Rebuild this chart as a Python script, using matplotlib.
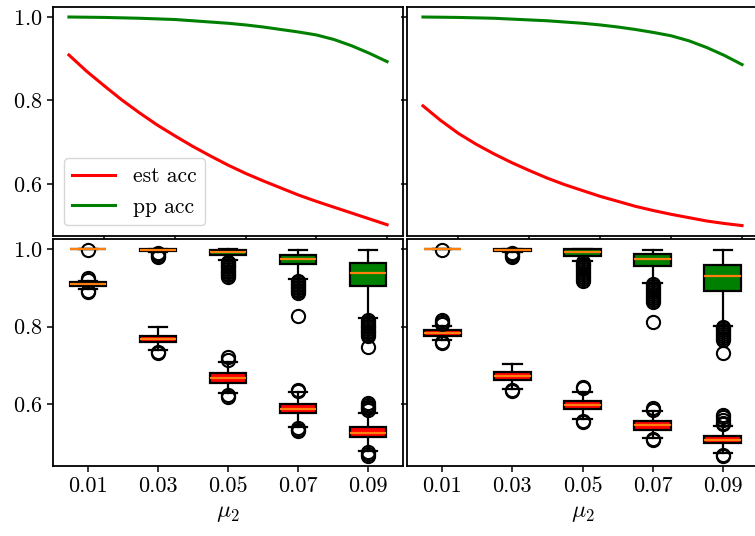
import matplotlib
matplotlib.use("Agg")
import matplotlib.pyplot as plt

plt.rcParams["font.family"] = "serif"
plt.rcParams["font.serif"] = ["cmr10"]
plt.rcParams["mathtext.fontset"] = "cm"
plt.rcParams["axes.unicode_minus"] = False
plt.rcParams["axes.formatter.use_mathtext"] = True

# top row: mean accuracy curves
mu = [0.010, 0.015, 0.020, 0.025, 0.030, 0.035, 0.040, 0.045, 0.050, 0.055,
      0.060, 0.065, 0.070, 0.075, 0.080, 0.085, 0.090, 0.095, 0.100]
est_left = [0.909, 0.870, 0.835, 0.801, 0.770, 0.741, 0.715, 0.690, 0.667, 0.645,
            0.625, 0.607, 0.590, 0.573, 0.558, 0.544, 0.530, 0.516, 0.502]
pp_left = [1.000, 0.9995, 0.999, 0.998, 0.997, 0.9955, 0.994, 0.991, 0.988, 0.985,
           0.981, 0.976, 0.970, 0.964, 0.957, 0.946, 0.931, 0.913, 0.893]
est_right = [0.787, 0.752, 0.721, 0.695, 0.672, 0.651, 0.632, 0.614, 0.598, 0.584,
             0.570, 0.558, 0.546, 0.536, 0.527, 0.519, 0.511, 0.505, 0.500]
pp_right = [1.000, 0.9995, 0.999, 0.998, 0.997, 0.995, 0.993, 0.991, 0.988, 0.985,
            0.981, 0.976, 0.970, 0.963, 0.955, 0.943, 0.927, 0.908, 0.886]

# bottom row: box statistics
pos = [0.01, 0.03, 0.05, 0.07, 0.09]
pos_labels = ["0.01", "0.03", "0.05", "0.07", "0.09"]

L_est_med = [0.909, 0.768, 0.668, 0.589, 0.527]
L_est_q1 = [0.904, 0.760, 0.656, 0.578, 0.515]
L_est_q3 = [0.914, 0.777, 0.680, 0.602, 0.541]
L_est_lo = [0.897, 0.740, 0.628, 0.542, 0.479]
L_est_hi = [0.918, 0.798, 0.708, 0.632, 0.578]
L_est_fl = [[0.926, 0.920, 0.893, 0.890],
            [0.735, 0.732],
            [0.721, 0.715, 0.624, 0.619],
            [0.638, 0.634, 0.540, 0.535, 0.530],
            [0.604, 0.599, 0.594, 0.590, 0.585, 0.476, 0.471, 0.467]]

L_pp_med = [1.0, 0.997, 0.992, 0.975, 0.939]
L_pp_q1 = [1.0, 0.995, 0.986, 0.961, 0.904]
L_pp_q3 = [1.0, 0.999, 0.998, 0.986, 0.964]
L_pp_lo = [1.0, 0.992, 0.971, 0.924, 0.823]
L_pp_hi = [1.0, 1.0, 1.0, 0.998, 0.998]
L_pp_fl = [[0.997],
           [0.991, 0.987, 0.983, 0.980],
           [0.968, 0.964, 0.960, 0.957, 0.953, 0.949, 0.944, 0.940, 0.936, 0.932, 0.928],
           [0.919, 0.915, 0.911, 0.907, 0.903, 0.899, 0.895, 0.891, 0.888, 0.827],
           [0.817, 0.812, 0.808, 0.803, 0.799, 0.794, 0.790, 0.786, 0.781, 0.775, 0.747]]

R_est_med = [0.784, 0.672, 0.598, 0.546, 0.509]
R_est_q1 = [0.777, 0.662, 0.588, 0.535, 0.500]
R_est_q3 = [0.791, 0.682, 0.609, 0.556, 0.518]
R_est_lo = [0.767, 0.639, 0.562, 0.514, 0.474]
R_est_hi = [0.802, 0.704, 0.632, 0.582, 0.545]
R_est_fl = [[0.817, 0.811, 0.806, 0.760, 0.757],
            [0.636, 0.633],
            [0.645, 0.641, 0.558, 0.555],
            [0.591, 0.586, 0.510, 0.507],
            [0.572, 0.566, 0.560, 0.553, 0.548, 0.470, 0.466]]

R_pp_med = [1.0, 0.998, 0.992, 0.974, 0.931]
R_pp_q1 = [1.0, 0.996, 0.982, 0.956, 0.892]
R_pp_q3 = [1.0, 0.999, 0.999, 0.988, 0.960]
R_pp_lo = [1.0, 0.993, 0.969, 0.913, 0.802]
R_pp_hi = [1.0, 1.0, 1.0, 0.998, 0.997]
R_pp_fl = [[0.997],
           [0.991, 0.987, 0.983, 0.979],
           [0.966, 0.962, 0.958, 0.953, 0.949, 0.944, 0.939, 0.934, 0.929, 0.924, 0.919],
           [0.910, 0.905, 0.900, 0.895, 0.890, 0.884, 0.879, 0.874, 0.869, 0.864, 0.813],
           [0.800, 0.796, 0.791, 0.787, 0.782, 0.777, 0.772, 0.767, 0.732]]


def stats(med, q1, q3, lo, hi, fl):
    return [dict(med=m, q1=a, q3=b, whislo=l, whishi=h, fliers=f)
            for m, a, b, l, h, f in zip(med, q1, q3, lo, hi, fl)]


def draw_boxes(ax, st, color):
    ax.bxp(st, positions=pos, widths=0.0105, patch_artist=True, manage_ticks=False,
           boxprops=dict(facecolor=color, edgecolor="black", linewidth=1.6),
           medianprops=dict(color="#ff7f0e", linewidth=1.6),
           whiskerprops=dict(color="black", linewidth=1.6),
           capprops=dict(color="black", linewidth=1.6),
           flierprops=dict(marker="o", markersize=9.5, markerfacecolor="none",
                           markeredgecolor="black", markeredgewidth=1.5))


W, H = 755, 536
fig, axs = plt.subplots(2, 2, sharey="row", figsize=(W / 100, H / 100), dpi=100)
axs[0, 0].set_position([53 / W, 1 - 236 / H, 350 / W, 229 / H])
axs[0, 1].set_position([407 / W, 1 - 236 / H, 351 / W, 229 / H])
axs[1, 0].set_position([53 / W, 1 - 466 / H, 350 / W, 227 / H])
axs[1, 1].set_position([407 / W, 1 - 466 / H, 351 / W, 227 / H])

for ax, est, pp in [(axs[0, 0], est_left, pp_left), (axs[0, 1], est_right, pp_right)]:
    ax.plot(mu, est, color="red", lw=2.2, label="est acc")
    ax.plot(mu, pp, color="green", lw=2.2, label="pp acc")
    ax.set_xlim(0.0055, 0.1045)
    ax.set_xticks([0.02, 0.04, 0.06, 0.08, 0.10])
    ax.tick_params(labelbottom=False)
axs[0, 0].set_ylim(0.475, 1.024)
axs[0, 0].legend(loc="lower left", fontsize=15.5)

draw_boxes(axs[1, 0], stats(L_est_med, L_est_q1, L_est_q3, L_est_lo, L_est_hi, L_est_fl), "red")
draw_boxes(axs[1, 0], stats(L_pp_med, L_pp_q1, L_pp_q3, L_pp_lo, L_pp_hi, L_pp_fl), "green")
draw_boxes(axs[1, 1], stats(R_est_med, R_est_q1, R_est_q3, R_est_lo, R_est_hi, R_est_fl), "red")
draw_boxes(axs[1, 1], stats(R_pp_med, R_pp_q1, R_pp_q3, R_pp_lo, R_pp_hi, R_pp_fl), "green")
for ax in axs[1]:
    ax.set_xlim(0, 0.1)
    ax.set_xticks(pos)
    ax.set_xticklabels(pos_labels)
    ax.set_xlabel(r"$\mu_2$", fontsize=17)
axs[1, 0].set_ylim(0.441, 1.026)

for ax in axs.flat:
    ax.set_yticks([0.6, 0.8, 1.0])
    ax.tick_params(labelsize=16, width=1.1, length=4)
    for s in ax.spines.values():
        s.set_linewidth(1.3)

fig.savefig("out.png", dpi=100)
